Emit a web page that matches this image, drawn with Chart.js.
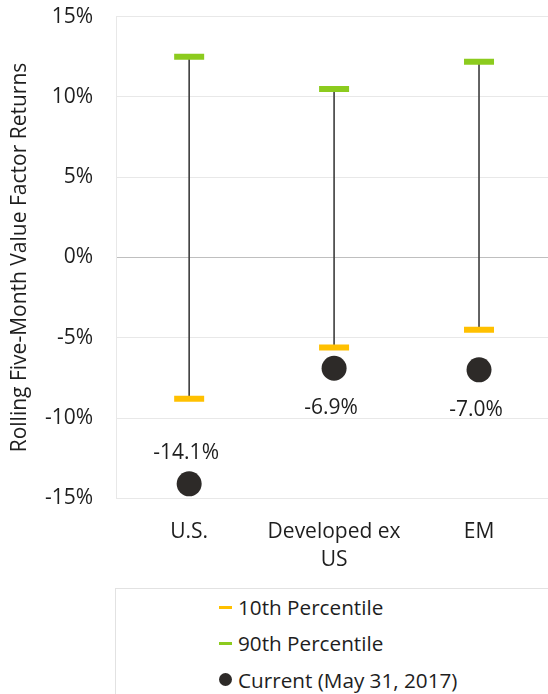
<!DOCTYPE html>
<html>
<head>
<meta charset="utf-8">
<script src="https://cdn.jsdelivr.net/npm/chart.js@4.4.1/dist/chart.umd.min.js"></script>
<style>
  html, body { margin: 0; padding: 0; background: #fff; overflow: hidden; }
  #wrap { position: relative; width: 548px; height: 694px; overflow: hidden; }
  #chart { position: absolute; left: 0; top: 0; }
  #legend {
    position: absolute; left: 115px; top: 588px; width: 470px; height: 140px;
    border: 1px solid #e2e2e2; box-sizing: border-box;
    font-family: 'Open Sans', sans-serif; font-size: 20.7px; color: #1e1e1e;
  }
  #legend .item { position: absolute; left: 103px; height: 36px; display: flex; align-items: center; white-space: nowrap; }
  #legend .mark { width: 13px; margin-right: 6px; flex: none; }
</style>
</head>
<body>
<div id="wrap">
  <canvas id="chart" width="548" height="588"></canvas>
  <div id="legend"></div>
</div>
<script>
// Regions on the category axis
const categories = ['U.S.', ['Developed ex', 'US'], 'EM'];
// Rolling five-month value factor returns, in percent
const pct10 = [-8.8, -5.6, -4.5];
const pct90 = [12.5, 10.5, 12.2];
const current = [-14.1, -6.9, -7.0];
// Value axis ticks
const yTicks = [-15, -10, -5, 0, 5, 10, 15];

const FONT = "'Open Sans', sans-serif";
const FONT_SIZE = 21;
const TEXT = '#1e1e1e';

const COLORS = {
  low: '#FFC000',
  high: '#8CCB1E',
  current: '#2d2a28',
  whisker: '#444444'
};

const xy = arr => arr.map((v, i) => ({ x: i, y: v }));

// Value labels next to the "current" markers: above when there is room
// between the marker and the 10th percentile dash, otherwise below
const valueLabels = {
  id: 'valueLabels',
  afterDatasetsDraw(chart) {
    const ctx = chart.ctx;
    const cur = chart.getDatasetMeta(3);
    const low = chart.getDatasetMeta(1);
    ctx.save();
    ctx.font = FONT_SIZE + 'px ' + FONT;
    ctx.fillStyle = TEXT;
    ctx.textAlign = 'center';
    ctx.textBaseline = 'middle';
    cur.data.forEach((pt, i) => {
      const gap = pt.y - low.data[i].y;
      const y = gap > 60 ? pt.y - 31 : pt.y + 40;
      ctx.fillText(current[i].toFixed(1) + '%', pt.x - 3, y);
    });
    ctx.restore();
  }
};

// Single-column legend below the plot
const htmlLegend = {
  id: 'htmlLegend',
  afterUpdate(chart) {
    const box = document.getElementById('legend');
    box.innerHTML = '';
    chart.data.datasets
      .filter(ds => ds.type === 'line')
      .forEach((ds, i) => {
        const item = document.createElement('div');
        item.className = 'item';
        item.style.top = (i * 36.3) + 'px';
        const mark = document.createElement('span');
        mark.className = 'mark';
        if (ds.pointStyle === 'circle') {
          mark.style.height = '13px';
          mark.style.borderRadius = '50%';
        } else {
          mark.style.height = '3px';
        }
        mark.style.background = ds.pointBackgroundColor || ds.pointBorderColor;
        const label = document.createElement('span');
        label.textContent = ds.label;
        item.appendChild(mark);
        item.appendChild(label);
        box.appendChild(item);
      });
  }
};

new Chart(document.getElementById('chart'), {
  type: 'bar',
  data: {
    datasets: [
      {
        type: 'bar',
        label: 'Range',
        data: pct10.map((v, i) => ({ x: i, y: [v, pct90[i]] })),
        backgroundColor: COLORS.whisker,
        barThickness: 1,
        order: 10
      },
      {
        type: 'line',
        label: '10th Percentile',
        data: xy(pct10),
        showLine: false,
        pointStyle: 'line',
        pointRadius: 15,
        pointBorderWidth: 6,
        pointBorderColor: COLORS.low,
        order: 2
      },
      {
        type: 'line',
        label: '90th Percentile',
        data: xy(pct90),
        showLine: false,
        pointStyle: 'line',
        pointRadius: 15,
        pointBorderWidth: 6,
        pointBorderColor: COLORS.high,
        order: 2
      },
      {
        type: 'line',
        label: 'Current (May 31, 2017)',
        data: xy(current),
        showLine: false,
        pointStyle: 'circle',
        pointRadius: 12.5,
        pointBorderWidth: 0,
        pointBackgroundColor: COLORS.current,
        pointBorderColor: COLORS.current,
        order: 1
      }
    ]
  },
  options: {
    responsive: false,
    animation: false,
    events: [],
    layout: { autoPadding: false, padding: { top: 16.7, left: 0, right: 0, bottom: 0 } },
    plugins: {
      legend: { display: false },
      tooltip: { enabled: false }
    },
    scales: {
      x: {
        type: 'linear',
        offset: false,
        min: -0.5,
        max: 2.476,
        grid: { display: false, drawTicks: false, offset: false },
        border: { display: false },
        afterBuildTicks(scale) {
          scale.ticks = categories.map((c, i) => ({ value: i }));
        },
        afterFit(scale) {
          scale.height = 89.7;
          scale.paddingLeft = 0;
          scale.paddingRight = 0;
        },
        ticks: {
          autoSkip: false,
          maxRotation: 0,
          padding: 19.2,
          color: TEXT,
          font: { family: FONT, size: FONT_SIZE, lineHeight: 1.35 },
          callback: v => categories[v]
        }
      },
      y: {
        min: -15,
        max: 15,
        afterBuildTicks(scale) {
          scale.ticks = yTicks.map(v => ({ value: v }));
        },
        afterFit(scale) {
          scale.width = 116.7;
          scale.paddingTop = 0;
          scale.paddingBottom = 0;
        },
        grid: {
          drawTicks: false,
          color: ctx => (ctx.tick && ctx.tick.value === 0 ? '#bfbfbf' : '#e8e8e8'),
          lineWidth: 1
        },
        border: { display: true, color: '#e8e8e8', width: 1 },
        ticks: {
          padding: 23.5,
          color: TEXT,
          font: { family: FONT, size: FONT_SIZE },
          callback: v => v + '%'
        },
        title: {
          display: true,
          text: 'Rolling Five-Month Value Factor Returns',
          color: TEXT,
          font: { family: FONT, size: FONT_SIZE, lineHeight: 1.2 },
          padding: { top: 7.5, bottom: 0 }
        }
      }
    }
  },
  plugins: [valueLabels, htmlLegend]
});
</script>
</body>
</html>
